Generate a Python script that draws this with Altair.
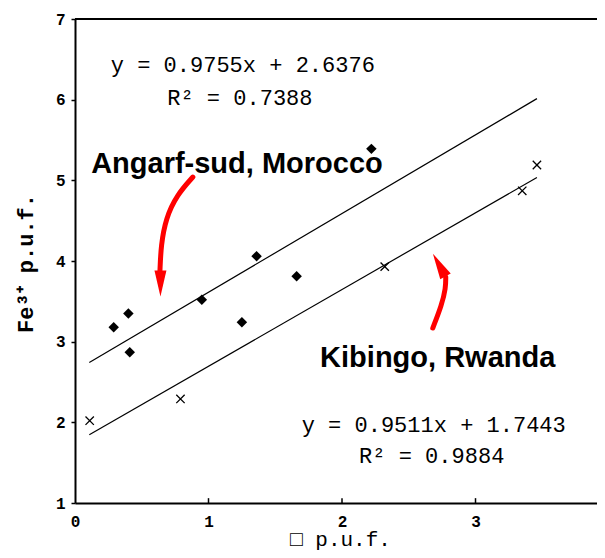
import altair as alt
import pandas as pd

# --- data ---
angarf_x = [0.29, 0.40, 0.41, 0.95, 1.25, 1.36, 1.66, 2.22]
angarf_y = [3.18, 3.35, 2.87, 3.52, 3.24, 4.06, 3.81, 5.39]
kibingo_x = [0.11, 0.79, 2.32, 3.35, 3.46]
kibingo_y = [2.02, 2.29, 3.93, 4.87, 5.19]

# fitted lines (as printed on the chart)
fit_names = ["Angarf", "Kibingo"]
fit_slope = [0.9755, 0.9511]
fit_icpt = [2.6376, 1.7443]
fit_x0 = [0.107, 0.107]
fit_x1 = [3.46, 3.46]

eq_text = ["y = 0.9755x + 2.6376", "R² = 0.7388", "y = 0.9511x + 1.7443", "R² = 0.9884"]
eq_x = [1.257, 1.235, 2.687, 2.672]
eq_y = [6.343, 5.934, 1.880, 1.496]

lab_text = ["Angarf-sud, Morocco", "Kibingo, Rwanda"]
lab_x = [1.213, 2.717]
lab_y = [5.091, 2.686]

# red arrows (path points in data units)
arrow_id = [1, 1, 1, 1, 1, 2, 2, 2, 2]
arrow_ord = [0, 1, 2, 3, 4, 0, 1, 2, 3]
arrow_x = [0.883, 0.763, 0.681, 0.644, 0.636, 2.680, 2.747, 2.777, 2.777]
arrow_y = [5.041, 4.818, 4.533, 4.198, 3.864, 3.169, 3.454, 3.665, 3.802]
head_x = [0.640, 2.728]
head_y = [3.721, 3.950]
head_angle = [0, 151]

x_ticks = [0, 1, 2, 3]
y_ticks = [1, 2, 3, 4, 5, 6, 7]
X_MAX = 3.91

# --- build tables ---
pts_a = pd.DataFrame({"x": angarf_x, "y": angarf_y})
pts_k = pd.DataFrame({"x": kibingo_x, "y": kibingo_y})
fit_rows = []
for n, m, b, a0, a1 in zip(fit_names, fit_slope, fit_icpt, fit_x0, fit_x1):
    fit_rows.append({"s": n, "x": a0, "y": m * a0 + b})
    fit_rows.append({"s": n, "x": a1, "y": m * a1 + b})
fits = pd.DataFrame(fit_rows)
eqs = pd.DataFrame({"t": eq_text, "x": eq_x, "y": eq_y})
labs = pd.DataFrame({"t": lab_text, "x": lab_x, "y": lab_y})
arrows = pd.DataFrame({"id": arrow_id, "o": arrow_ord, "x": arrow_x, "y": arrow_y})
heads = pd.DataFrame({"x": head_x, "y": head_y, "a": head_angle})
inner = pd.DataFrame({"x": [1, 2, 3], "y": [1.0] * 3, "y2": [1.06] * 3})

MONO = "Liberation Mono"
SANS = "Liberation Sans"

xs = alt.Scale(domain=[0, X_MAX], nice=False, zero=False)
ys = alt.Scale(domain=[1, 7], nice=False, zero=False)

xaxis = alt.Axis(
    values=x_ticks, format="d", grid=False, tickSize=0, labelPadding=10,
    labelFont=MONO, labelFontWeight="bold", labelFontSize=16, labelColor="black",
    domainColor="black", domainWidth=2, labelFlush=False,
    title="□ p.u.f.", titleFont=MONO, titleFontWeight="normal", titleFontSize=21,
    titleColor="black", titleX=265, titleY=42, titleAlign="center",
    titleBaseline="alphabetic",
)
yaxis = alt.Axis(
    values=y_ticks, format="d", grid=False, tickSize=4, tickWidth=1.5, tickColor="black",
    labelPadding=6, labelFont=MONO, labelFontWeight="bold", labelFontSize=16,
    labelColor="black", domainColor="black", domainWidth=2,
    title="Fe³⁺ p.u.f.", titleFont=MONO, titleFontWeight="bold", titleFontSize=22,
    titleColor="black", titleX=-50, titleY=244, titleAngle=270, titleAlign="center",
    titleBaseline="middle",
)

X = lambda: alt.X("x:Q", scale=xs, axis=xaxis)
Y = lambda: alt.Y("y:Q", scale=ys, axis=yaxis)

lines = alt.Chart(fits).mark_line(color="black", strokeWidth=1.2).encode(
    x=X(), y=Y(), detail="s:N")

diam = alt.Chart(pts_a).mark_point(shape="diamond", filled=True, color="black",
                                   size=110, opacity=1).encode(x=X(), y=Y())

cross = alt.Chart(pts_k).mark_point(shape="M-1,-1L1,1M-1,1L1,-1", filled=False,
                                    color="black", strokeWidth=1.3, size=70,
                                    opacity=1).encode(x=X(), y=Y())

top = alt.Chart(pd.DataFrame({"x": [0.0], "x2": [X_MAX], "y": [7.0]})).mark_rule(
    color="black", strokeWidth=2).encode(x=X(), x2="x2:Q", y=Y())

ticks_in = alt.Chart(inner).mark_rule(color="black", strokeWidth=1.5).encode(
    x=X(), y=Y(), y2="y2:Q")

eq_layer = alt.Chart(eqs).mark_text(font=MONO, fontSize=22, color="black",
                                     baseline="alphabetic", align="center").encode(
    x=X(), y=Y(), text="t:N")

lab_layer = alt.Chart(labs).mark_text(font=SANS, fontWeight="bold", fontSize=29,
                                      color="black", baseline="alphabetic",
                                      align="center").encode(x=X(), y=Y(), text="t:N")

arrow_layer = alt.Chart(arrows).mark_line(color="#ff0000", strokeWidth=5,
                                          strokeCap="round", interpolate="basis").encode(
    x=X(), y=Y(), detail="id:N", order="o:Q")

head_layer = alt.Chart(heads).mark_point(shape="M-0.46,-1L0.46,-1L0,1Z", filled=True,
                                         color="#ff0000", size=676, opacity=1).encode(
    x=X(), y=Y(), angle=alt.Angle("a:Q", scale=None))

chart = alt.layer(
    lines, top, ticks_in, diam, cross, eq_layer, lab_layer, arrow_layer, head_layer
).properties(
    width=522, height=484,
    autosize=alt.AutoSizeParams(type="none"),
    padding={"left": 67, "top": 11, "right": 0, "bottom": 47},
    background="white",
).configure_view(stroke=None)

chart.save("out.html", embed_options={"renderer": "svg", "actions": False})
